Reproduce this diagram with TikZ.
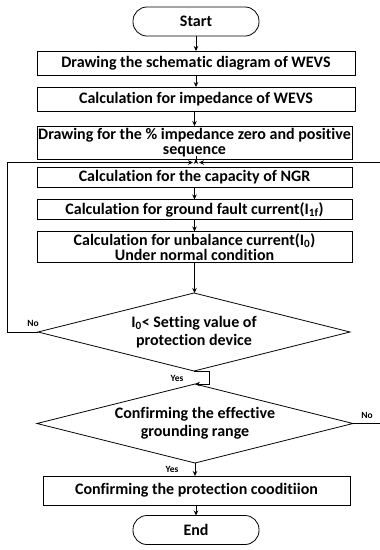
\documentclass[tikz,border=0pt]{standalone}
\usepackage{fontspec}
\setmainfont{Carlito}[Ligatures=NoCommon]
\usetikzlibrary{shapes.geometric,arrows.meta}
\begin{document}
\begin{tikzpicture}[x=1pt,y=-1pt,
  font=\bfseries\fontsize{16}{15.5}\selectfont,
  every node/.style={inner sep=0pt, outer sep=0pt},
  box/.style={draw, line width=0.8pt, align=center},
  term/.style={draw, line width=0.8pt, rounded corners=14pt, minimum width=126pt, minimum height=29pt, font=\bfseries\fontsize{16}{16}\selectfont},
  dec/.style={draw, diamond, aspect=4, line width=0.8pt, align=center, font=\bfseries\fontsize{16}{18}\selectfont},
  arr/.style={draw, line width=0.8pt, -{Stealth[length=5pt,width=4.5pt]}},
  lab/.style={font=\bfseries\fontsize{9.5}{10}\selectfont}
]
\clip (0,0) rectangle (380,550);
\fill[white] (0,0) rectangle (380,550);

\node[term] (start) at (196,21.5) {Start};
\node[box, minimum width=318pt, minimum height=24pt] (b1) at (196,63) {Drawing the schematic diagram of WEVS};
\node[box, minimum width=318pt, minimum height=24pt] (b2) at (196,99) {Calculation for impedance of WEVS};
\node[box, minimum width=315pt, minimum height=33pt] (b3) at (194.5,142.5) {Drawing for the \% impedance zero and positive\\sequence};
\node[box, minimum width=315pt, minimum height=20pt] (b4) at (194.5,177) {Calculation for the capacity of NGR};
\node[box, minimum width=315pt, minimum height=20pt] (b5) at (194.5,209.5) {Calculation for ground fault current(I\textsubscript{1f})};
\node[box, minimum width=315pt, minimum height=31pt] (b6) at (194.5,247) {Calculation for unbalance current(I\textsubscript{0})\\Under normal condition};
\node[dec, minimum width=312pt, minimum height=78pt] (d1) at (194,332) {I\textsubscript{0}< Setting value of\\protection device};
\node[dec, minimum width=316pt, minimum height=79pt] (d2) at (195,423.5) {Confirming the effective\\grounding range};
\node[box, minimum width=307pt, minimum height=29pt] (b7) at (196.5,490.5) {Confirming the protection cooditiion};
\node[term] (end) at (196,530) {End};

\coordinate (jn) at (196,162.5);

\draw[arr] (start) -- (b1);
\draw[arr] (b1) -- (b2);
\draw[arr] (b2.south -| b3.north) -- (b3.north);
\draw[arr] (b3.south -| jn) -- (b3.south -| jn |- b4.north);
\draw[arr] (b4) -- (b5);
\draw[arr] (b5) -- (b6);
\draw[arr] (b6.south) -- (b6.south |- d1.north);
\draw[arr] (d1.west) -- (7,332) |- ([xshift=-3pt]jn);
\draw[arr] (d2.east) -- (390,423.5) |- ([xshift=3pt]jn);
\draw[arr] (d1.south) -- ++(15,0) |- (d2.north);
\draw[arr] (d2.south) -- (d2.south |- b7.north);
\draw[arr] (b7.south -| end.north) -- (end.north);

\node[lab] (no1) at (33,323) {No};
\node[lab] (no2) at (367,415) {No};
\node[lab] (yes1) at (177,378) {Yes};
\node[lab] (yes2) at (172,469) {Yes};
\end{tikzpicture}
\end{document}
